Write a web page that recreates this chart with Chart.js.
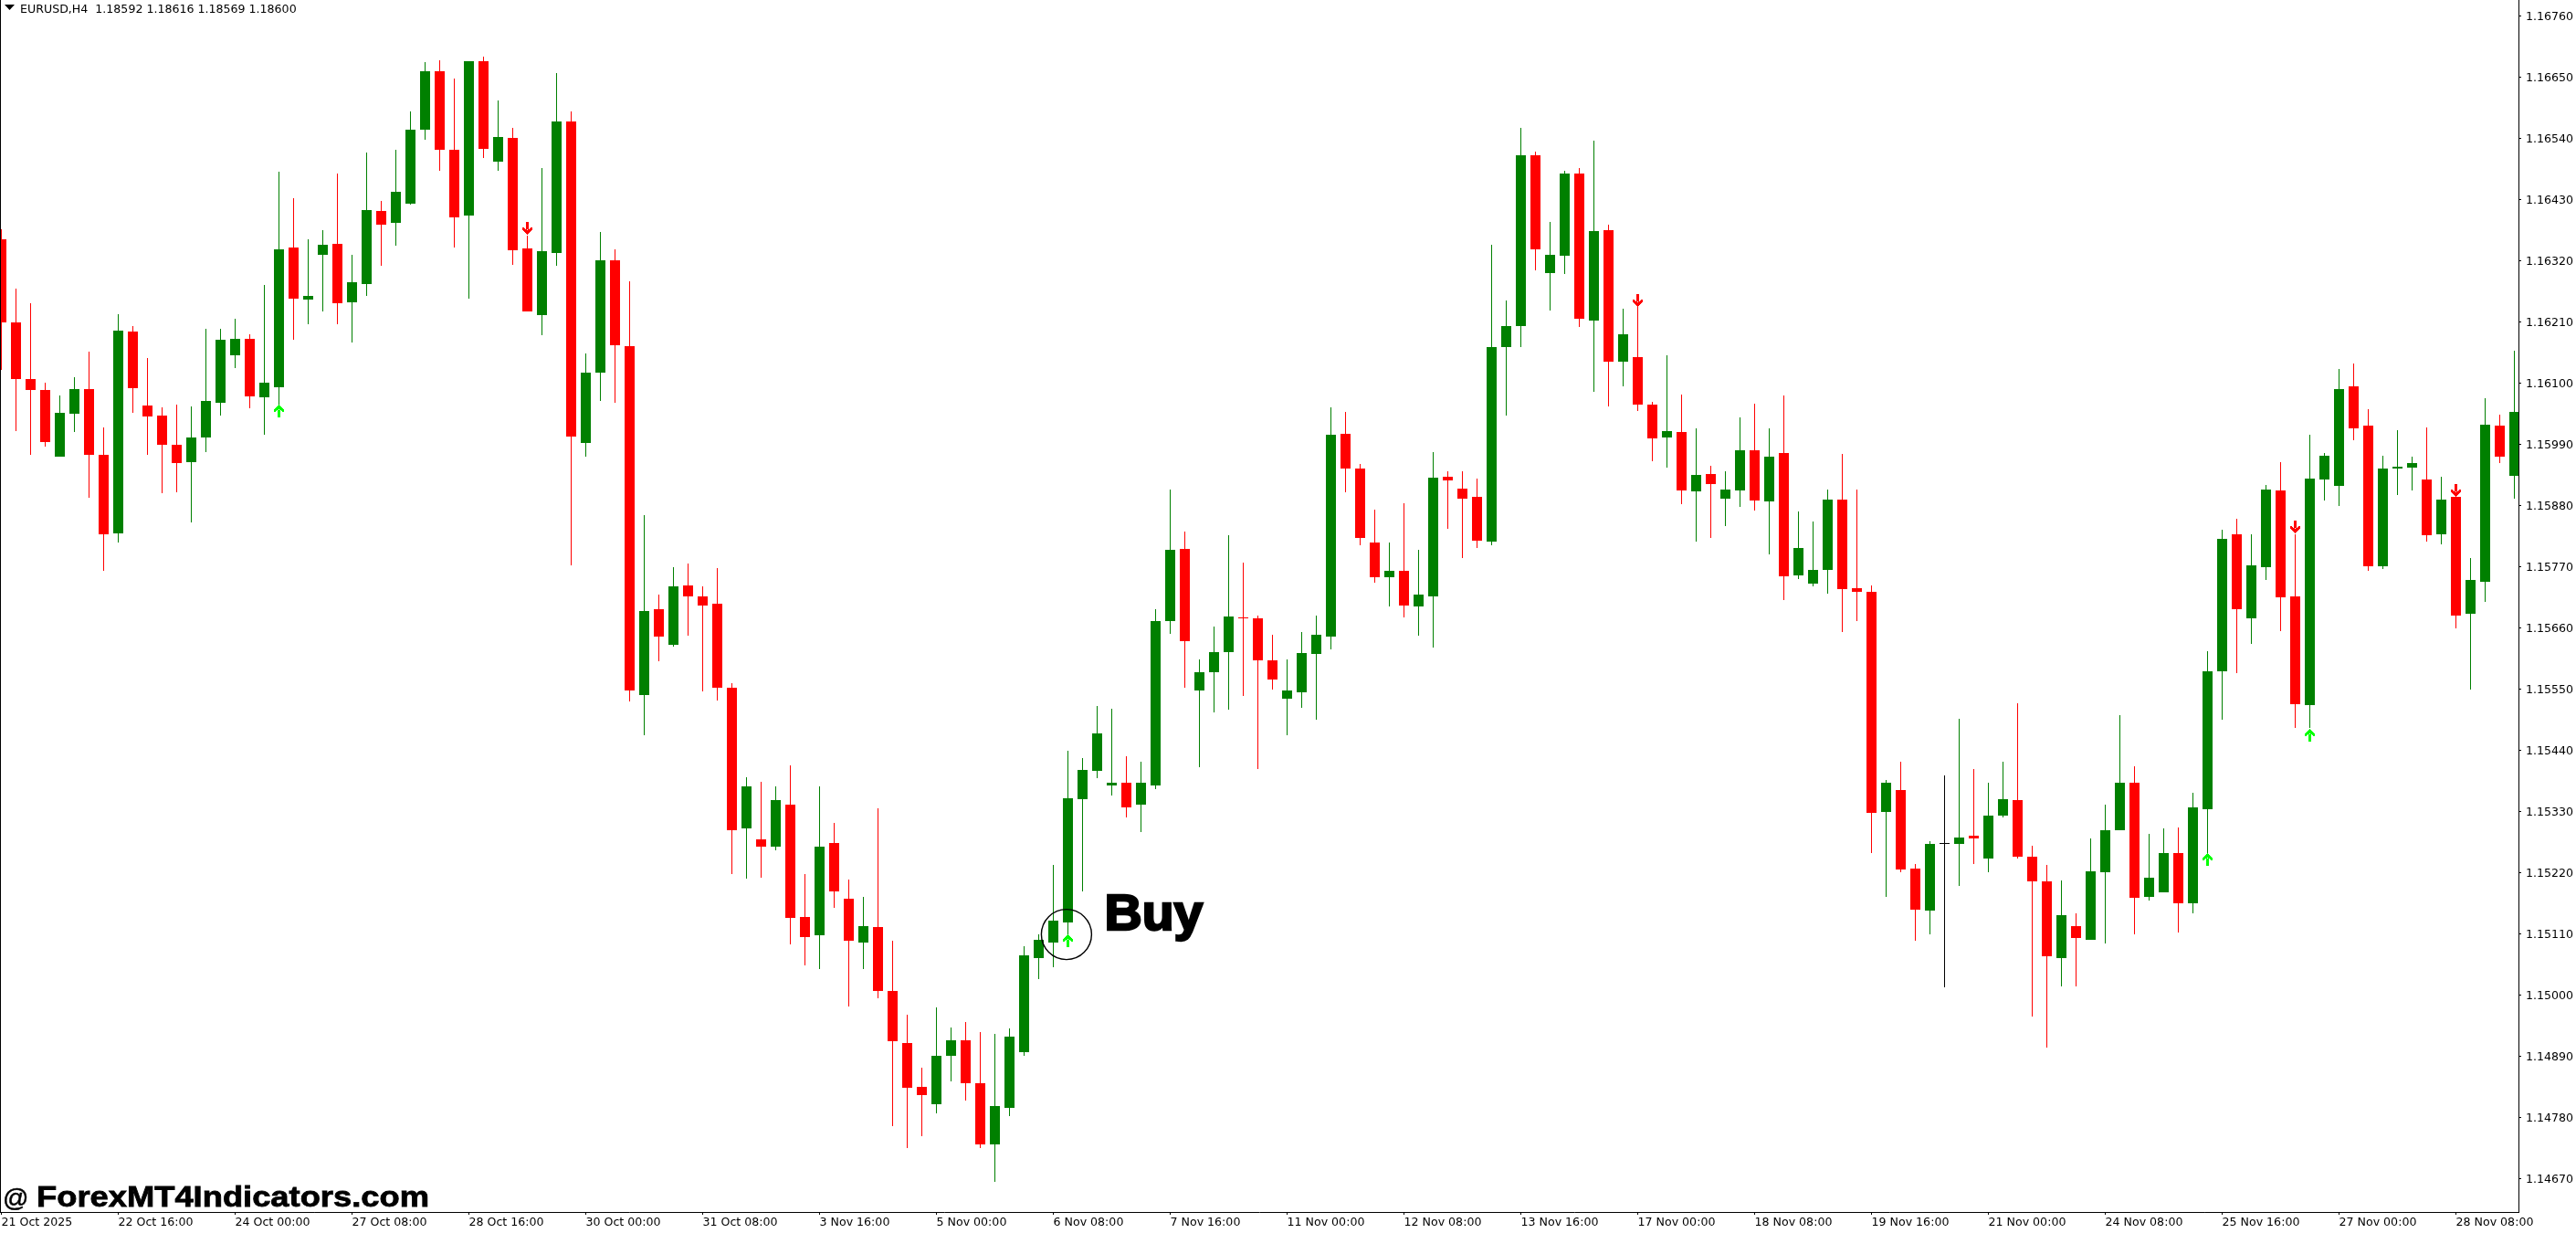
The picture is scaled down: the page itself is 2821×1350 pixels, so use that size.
<!DOCTYPE html>
<html>
<head>
<meta charset="utf-8">
<title>EURUSD,H4</title>
<style>
  html, body { margin: 0; padding: 0; background: #fff; overflow: hidden; }
  #wrap { width: 2821px; height: 1350px; }
  canvas { display: block; }
</style>
</head>
<body>
<div id="wrap"><canvas id="chart" width="2821" height="1350"></canvas></div>
<script src="https://cdn.jsdelivr.net/npm/chart.js@4"></script>
<script>
// EURUSD H4 candles
const opens = [
  1.16358,1.16209,1.16107,1.16088,1.15968,1.16045,1.16089,1.15972,1.15830,1.16193,
  1.16060,1.16042,1.15989,1.15958,1.16002,1.16065,1.16150,1.16180,1.16075,1.16093,
  1.16344,1.16250,1.16331,1.16351,1.16245,1.16279,1.16409,1.16388,1.16423,1.16556,
  1.16661,1.16520,1.16402,1.16679,1.16498,1.16541,1.16342,1.16223,1.16334,1.16571,
  1.15992,1.16119,1.16321,1.16167,1.15540,1.15693,1.15629,1.15736,1.15717,1.15704,
  1.15552,1.15299,1.15280,1.15267,1.15343,1.15141,1.15107,1.15273,1.15173,1.15095,
  1.15123,1.15007,1.14914,1.14835,1.14804,1.14891,1.14918,1.14842,1.14731,1.14798,
  1.14897,1.15067,1.15095,1.15131,1.15353,1.15403,1.15377,1.15381,1.15343,1.15377,
  1.15672,1.15802,1.15547,1.15581,1.15616,1.15679,1.15677,1.15601,1.15533,1.15545,
  1.15613,1.15645,1.16009,1.15947,1.15814,1.15751,1.15762,1.15699,1.15717,1.15932,
  1.15911,1.15896,1.15816,1.16165,1.16203,1.16510,1.16298,1.16330,1.16477,1.16212,
  1.16376,1.16138,1.16147,1.16062,1.16003,1.16012,1.15906,1.15937,1.15893,1.15907,
  1.15980,1.15888,1.15975,1.15755,1.15740,1.15764,1.15891,1.15731,1.15725,1.15329,
  1.15369,1.15228,1.15152,1.15273,1.15271,1.15286,1.15245,1.15322,1.15350,1.15248,
  1.15204,1.15067,1.15124,1.15100,1.15221,1.15296,1.15382,1.15176,1.15185,1.15256,
  1.15165,1.15334,1.15582,1.15829,1.15677,1.15769,1.15907,1.15716,1.15521,1.15927,
  1.15915,1.16094,1.16024,1.15771,1.15946,1.15948,1.15927,1.15829,1.15895,1.15685,
  1.15743,1.16024,1.15933
];
const highs = [
  1.16377,1.16270,1.16244,1.16101,1.16078,1.16111,1.16157,1.16020,1.16224,1.16203,
  1.16145,1.16057,1.16061,1.16058,1.16198,1.16198,1.16216,1.16188,1.16276,1.16480,
  1.16433,1.16358,1.16375,1.16477,1.16331,1.16515,1.16428,1.16520,1.16589,1.16677,
  1.16681,1.16648,1.16679,1.16687,1.16608,1.16559,1.16365,1.16487,1.16657,1.16589,
  1.16153,1.16372,1.16341,1.16283,1.15863,1.15720,1.15770,1.15776,1.15734,1.15767,
  1.15561,1.15391,1.15383,1.15376,1.15413,1.15218,1.15376,1.15309,1.15208,1.15176,
  1.15335,1.15097,1.14964,1.14870,1.14978,1.14942,1.14952,1.14934,1.14930,1.14940,
  1.15088,1.15110,1.15234,1.15440,1.15426,1.15520,1.15514,1.15429,1.15420,1.15694,
  1.15909,1.15833,1.15604,1.15662,1.15827,1.15777,1.15683,1.15647,1.15604,1.15653,
  1.15683,1.16057,1.16049,1.15955,1.15873,1.15814,1.15885,1.15801,1.15976,1.15942,
  1.15942,1.15929,1.16349,1.16249,1.16559,1.16517,1.16390,1.16482,1.16487,1.16536,
  1.16385,1.16234,1.16237,1.16066,1.16151,1.16080,1.16019,1.15952,1.15942,1.16039,
  1.16064,1.16019,1.16078,1.15870,1.15852,1.15909,1.15973,1.15909,1.15736,1.15387,
  1.15420,1.15236,1.15276,1.15395,1.15496,1.15406,1.15382,1.15420,1.15524,1.15268,
  1.15234,1.15206,1.15147,1.15281,1.15342,1.15503,1.15411,1.15289,1.15299,1.15301,
  1.15364,1.15618,1.15836,1.15857,1.15829,1.15917,1.15958,1.15829,1.16008,1.15975,
  1.16126,1.16136,1.16053,1.15970,1.16016,1.15968,1.16021,1.15932,1.15895,1.15786,
  1.16073,1.16043,1.16159
];
const lows = [
  1.16124,1.16014,1.15972,1.15986,1.15968,1.16012,1.15894,1.15762,1.15813,1.16047,
  1.15972,1.15902,1.15904,1.15849,1.15977,1.16042,1.16127,1.16055,1.16007,1.16054,
  1.16178,1.16206,1.16229,1.16206,1.16173,1.16257,1.16311,1.16347,1.16421,1.16538,
  1.16482,1.16344,1.16252,1.16505,1.16482,1.16312,1.16229,1.16186,1.16311,1.15772,
  1.15968,1.16068,1.16065,1.15528,1.15467,1.15600,1.15627,1.15646,1.15546,1.15530,
  1.15217,1.15210,1.15211,1.15261,1.15091,1.15054,1.15046,1.15156,1.14980,1.15046,
  1.14995,1.14765,1.14725,1.14747,1.14788,1.14845,1.14811,1.14725,1.14665,1.14782,
  1.14891,1.15028,1.15050,1.15102,1.15186,1.15390,1.15358,1.15320,1.15293,1.15371,
  1.15650,1.15552,1.15410,1.15509,1.15513,1.15537,1.15407,1.15549,1.15467,1.15517,
  1.15495,1.15622,1.15904,1.15809,1.15742,1.15699,1.15679,1.15646,1.15625,1.15838,
  1.15786,1.15803,1.15809,1.16042,1.16165,1.16303,1.16231,1.16297,1.16201,1.16085,
  1.16058,1.16094,1.16050,1.15960,1.15948,1.15883,1.15816,1.15822,1.15844,1.15878,
  1.15871,1.15792,1.15710,1.15748,1.15735,1.15722,1.15653,1.15673,1.15255,1.15176,
  1.15221,1.15097,1.15110,1.15014,1.15196,1.15236,1.15221,1.15320,1.15245,1.14961,
  1.14905,1.15016,1.15016,1.15100,1.15092,1.15296,1.15110,1.15170,1.15185,1.15112,
  1.15147,1.15252,1.15495,1.15579,1.15632,1.15746,1.15655,1.15481,1.15480,1.15889,
  1.15880,1.15998,1.15763,1.15766,1.15899,1.15907,1.15815,1.15810,1.15660,1.15549,
  1.15707,1.15956,1.15892
];
const closes = [
  1.16209,1.16107,1.16088,1.15994,1.16047,1.16089,1.15972,1.15828,1.16194,1.16091,
  1.16040,1.15989,1.15956,1.16002,1.16068,1.16178,1.16180,1.16076,1.16101,1.16341,
  1.16252,1.16257,1.16349,1.16244,1.16281,1.16411,1.16385,1.16444,1.16556,1.16661,
  1.16520,1.16398,1.16679,1.16521,1.16543,1.16339,1.16229,1.16337,1.16571,1.16004,
  1.16119,1.16321,1.16168,1.15547,1.15691,1.15644,1.15734,1.15716,1.15701,1.15553,
  1.15297,1.15376,1.15266,1.15350,1.15138,1.15105,1.15267,1.15187,1.15097,1.15124,
  1.15008,1.14917,1.14834,1.14821,1.14891,1.14918,1.14841,1.14732,1.14801,1.14926,
  1.15071,1.15100,1.15134,1.15354,1.15404,1.15471,1.15381,1.15338,1.15381,1.15672,
  1.15800,1.15636,1.15581,1.15616,1.15681,1.15677,1.15601,1.15568,1.15548,1.15615,
  1.15648,1.16008,1.15946,1.15822,1.15751,1.15763,1.15701,1.15720,1.15930,1.15926,
  1.15893,1.15817,1.16165,1.16203,1.16510,1.16341,1.16331,1.16477,1.16216,1.16374,
  1.16138,1.16188,1.16062,1.16001,1.16014,1.15907,1.15935,1.15919,1.15909,1.15980,
  1.15889,1.15968,1.15753,1.15803,1.15764,1.15891,1.15730,1.15725,1.15327,1.15382,
  1.15226,1.15153,1.15271,1.15273,1.15284,1.15281,1.15322,1.15352,1.15248,1.15204,
  1.15069,1.15143,1.15102,1.15223,1.15296,1.15382,1.15175,1.15211,1.15255,1.15165,
  1.15337,1.15582,1.15820,1.15693,1.15773,1.15909,1.15715,1.15523,1.15928,1.15970,
  1.16089,1.16019,1.15771,1.15946,1.15950,1.15956,1.15827,1.15890,1.15683,1.15746,
  1.16026,1.15968,1.16049
];

const xTickLabels = [
  '21 Oct 2025','22 Oct 16:00','24 Oct 00:00','27 Oct 08:00','28 Oct 16:00','30 Oct 00:00',
  '31 Oct 08:00','3 Nov 16:00','5 Nov 00:00','6 Nov 08:00','7 Nov 16:00','11 Nov 00:00',
  '12 Nov 08:00','13 Nov 16:00','17 Nov 00:00','18 Nov 08:00','19 Nov 16:00','21 Nov 00:00',
  '24 Nov 08:00','25 Nov 16:00','27 Nov 00:00','28 Nov 08:00'
];
const barsPerXTick = 8;
const yTickLabels = [
  '1.16760','1.16650','1.16540','1.16430','1.16320','1.16210','1.16100','1.15990','1.15880','1.15770',
  '1.15660','1.15550','1.15440','1.15330','1.15220','1.15110','1.15000','1.14890','1.14780','1.14670'
];

// Signal arrows: bar index and the price at the middle of the arrow
const upArrowBars = [19, 73, 151, 158];
const upArrowPrices = [1.16050, 1.15098, 1.15244, 1.15467];
const downArrowBars = [36, 112, 157, 168];
const downArrowPrices = [1.16378, 1.16248, 1.15841, 1.15907];

// Hand drawn "Buy" mark
const buyMarkBar = 72.9;
const buyMarkPrice = 1.15109;

const headerText = 'EURUSD,H4  1.18592 1.18616 1.18569 1.18600';
const watermarkSign = '@';
const watermarkText = 'ForexMT4Indicators.com';
const buyText = 'Buy';

const GREEN = '#008000';
const RED = '#ff0000';
const LIME = '#00ff00';
const labelFont = { family: "'DejaVu Sans', sans-serif", size: 12.6 };

const candleColors = opens.map((o, i) => closes[i] > o ? GREEN : closes[i] < o ? RED : '#000000');

// Little pixel arrow, used as point style
function makeArrow(color, pointsUp) {
  const rows = [
    '.....#.....',
    '....###....',
    '...#####...',
    '..#######..',
    '.#########.',
    '#####.#####',
    '###.###.###',
    '##..###..##',
    '....###....',
    '....###....',
    '....###....',
    '....###....',
    '....###....',
    '....###....'
  ];
  const c = document.createElement('canvas');
  c.width = 11;
  c.height = rows.length;
  const g = c.getContext('2d');
  g.fillStyle = color;
  rows.forEach((row, y) => {
    for (let x = 0; x < row.length; x++) {
      if (row[x] === '#') g.fillRect(x, pointsUp ? y : rows.length - 1 - y, 1, 1);
    }
  });
  return c;
}

// Snap bars and arrows to whole pixels, MT4 draws no soft edges
const snapPlugin = {
  id: 'snap',
  beforeDatasetsDraw(chart) {
    chart.getSortedVisibleDatasetMetas().forEach(meta => {
      meta.data.forEach(el => {
        el.y = Math.round(el.y);
        if (meta.type === 'bar') {
          el.base = Math.round(el.base);
          if (el.base === el.y) el.base = el.y + 1;
        }
      });
    });
  }
};

// Texts and shapes that are not part of the axes
const overlayPlugin = {
  id: 'overlay',
  afterDraw(chart) {
    const ctx = chart.ctx;
    const x = chart.scales.x;
    const y = chart.scales.y;
    ctx.save();

    // left frame line
    ctx.fillStyle = '#000';
    ctx.fillRect(0, 0, 1, chart.chartArea.bottom);

    // symbol header
    ctx.beginPath();
    ctx.moveTo(5, 5);
    ctx.lineTo(16, 5);
    ctx.lineTo(10.5, 11);
    ctx.closePath();
    ctx.fill();
    ctx.font = "12.6px 'DejaVu Sans', sans-serif";
    ctx.textBaseline = 'alphabetic';
    ctx.fillText(headerText, 22, 14);

    // watermark
    ctx.strokeStyle = '#000';
    ctx.font = "28px 'Liberation Sans', sans-serif";
    ctx.lineWidth = 0.5;
    ctx.fillText(watermarkSign, 3, 1321);
    ctx.strokeText(watermarkSign, 3, 1321);

    ctx.save();
    ctx.font = "bold 31px 'Liberation Sans', sans-serif";
    ctx.translate(40, 1321);
    ctx.scale(430 / ctx.measureText(watermarkText).width, 1);
    ctx.lineWidth = 0.8;
    ctx.fillText(watermarkText, 0, 0);
    ctx.strokeText(watermarkText, 0, 0);
    ctx.restore();

    // Buy circle and word
    const bx = x.getPixelForValue(buyMarkBar);
    const by = y.getPixelForValue(buyMarkPrice);
    ctx.beginPath();
    ctx.arc(bx, by, 27.5, 0, Math.PI * 2);
    ctx.lineWidth = 1.4;
    ctx.stroke();

    ctx.save();
    ctx.font = "bold 55px 'Liberation Sans', sans-serif";
    ctx.translate(bx + 41.5, by - 5);
    ctx.scale(108 / ctx.measureText(buyText).width, 1);
    ctx.lineWidth = 2.4;
    ctx.fillText(buyText, 0, 0);
    ctx.strokeText(buyText, 0, 0);
    ctx.restore();

    ctx.restore();
  }
};

const barIndex = opens.map((_, i) => i);
const wickData = barIndex.map(i => ({ x: i, y: [lows[i], highs[i]] }));
const bodyData = barIndex.map(i => ({ x: i, y: [opens[i], closes[i]] }));
const upArrowData = upArrowBars.map((b, i) => ({ x: b, y: upArrowPrices[i] }));
const downArrowData = downArrowBars.map((b, i) => ({ x: b, y: downArrowPrices[i] }));

const barStyle = { grouped: false, inflateAmount: 0, borderWidth: 0, backgroundColor: candleColors };

new Chart(document.getElementById('chart').getContext('2d'), {
  data: {
    datasets: [
      { type: 'scatter', label: 'Buy signal', data: upArrowData, pointStyle: makeArrow(LIME, true), pointRadius: 6 },
      { type: 'scatter', label: 'Sell signal', data: downArrowData, pointStyle: makeArrow(RED, false), pointRadius: 6 },
      { type: 'bar', label: 'Body', data: bodyData, barThickness: 11, ...barStyle },
      { type: 'bar', label: 'Wick', data: wickData, barThickness: 1, ...barStyle }
    ]
  },
  options: {
    responsive: false,
    devicePixelRatio: 1,
    animation: false,
    // the arrows must not push the plot area in from the edges
    layout: { padding: 0, autoPadding: false },
    plugins: { legend: { display: false }, tooltip: { enabled: false } },
    scales: {
      x: {
        type: 'linear',
        position: 'bottom',
        offset: false,
        // one bar is 16px wide, bar 0 sits at x=1.5
        min: -0.09375,
        max: 172.28125,
        afterFit(scale) {
          scale.height = 23;
          scale.paddingLeft = 0;
          scale.paddingRight = 0;
        },
        afterBuildTicks(scale) {
          scale.ticks = xTickLabels.map((_, i) => ({ value: i * barsPerXTick }));
        },
        grid: { offset: false, drawOnChartArea: false, color: '#000', tickLength: 3, tickWidth: 1 },
        border: { color: '#000', width: 1 },
        ticks: {
          autoSkip: false,
          maxRotation: 0,
          align: 'start',
          padding: 1,
          color: '#000',
          font: labelFont,
          callback: value => xTickLabels[value / barsPerXTick]
        }
      },
      y: {
        type: 'linear',
        position: 'right',
        min: 1.14610,
        max: 1.16789,
        afterFit(scale) {
          scale.width = 63;
          scale.paddingTop = 0;
          scale.paddingBottom = 0;
        },
        afterBuildTicks(scale) {
          scale.ticks = yTickLabels.map(v => ({ value: parseFloat(v) }));
        },
        grid: { drawOnChartArea: false, color: '#000', tickLength: 3, tickWidth: 1 },
        border: { color: '#000', width: 1 },
        ticks: {
          autoSkip: false,
          padding: 5,
          labelOffset: 1,
          color: '#000',
          font: labelFont,
          callback: value => value.toFixed(5)
        }
      }
    }
  },
  plugins: [snapPlugin, overlayPlugin]
});
</script>
</body>
</html>
